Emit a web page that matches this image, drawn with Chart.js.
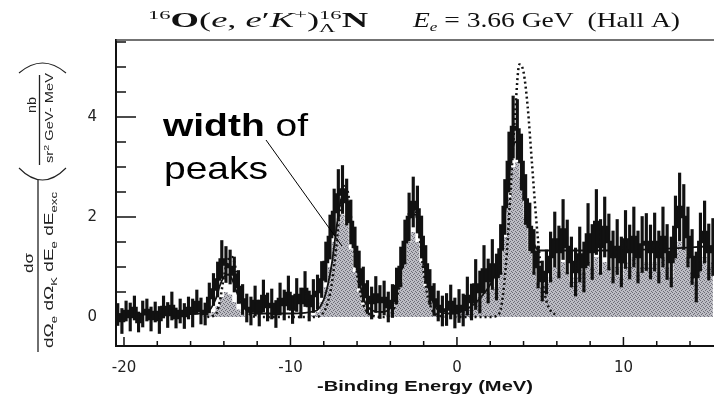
<!DOCTYPE html>
<html>
<head>
<meta charset="utf-8">
<script src="https://cdn.jsdelivr.net/npm/chart.js@4.4.1/dist/chart.umd.min.js"></script>
<style>
html,body{margin:0;padding:0;background:#fff;}
canvas{display:block;}
</style>
</head>
<body>
<canvas id="c" width="714" height="395"></canvas>
<script>
// ---------- data ----------
const binCenters = [
-20.375,-20.125,-19.875,-19.625,-19.375,-19.125,-18.875,-18.625,
-18.375,-18.125,-17.875,-17.625,-17.375,-17.125,-16.875,-16.625,
-16.375,-16.125,-15.875,-15.625,-15.375,-15.125,-14.875,-14.625,
-14.375,-14.125,-13.875,-13.625,-13.375,-13.125,-12.875,-12.625,
-12.375,-12.125,-11.875,-11.625,-11.375,-11.125,-10.875,-10.625,
-10.375,-10.125,-9.875,-9.625,-9.375,-9.125,-8.875,-8.625,
-8.375,-8.125,-7.875,-7.625,-7.375,-7.125,-6.875,-6.625,
-6.375,-6.125,-5.875,-5.625,-5.375,-5.125,-4.875,-4.625,
-4.375,-4.125,-3.875,-3.625,-3.375,-3.125,-2.875,-2.625,
-2.375,-2.125,-1.875,-1.625,-1.375,-1.125,-0.875,-0.625,
-0.375,-0.125,0.125,0.375,0.625,0.875,1.125,1.375,
1.625,1.875,2.125,2.375,2.625,2.875,3.125,3.375,
3.625,3.875,4.125,4.375,4.625,4.875,5.125,5.375,
5.625,5.875,6.125,6.375,6.625,6.875,7.125,7.375,
7.625,7.875,8.125,8.375,8.625,8.875,9.125,9.375,
9.625,9.875,10.125,10.375,10.625,10.875,11.125,11.375,
11.625,11.875,12.125,12.375,12.625,12.875,13.125,13.375,
13.625,13.875,14.125,14.375,14.625,14.875,15.125,15.375];

const measured = [
0.05,-0.08,0.12,0.0,0.18,-0.1,0.06,0.14,
-0.04,0.1,-0.06,0.2,0.04,0.22,-0.02,0.12,
0.02,0.18,0.08,0.3,0.12,0.06,0.38,0.55,
0.75,1.15,1.05,1.0,0.85,0.6,0.35,0.18,
0.12,0.32,0.08,0.42,0.2,0.26,0.06,0.36,
0.24,0.48,0.15,0.44,0.28,0.56,0.22,0.42,
0.5,0.75,1.1,1.6,2.1,2.45,2.55,2.3,
1.9,1.4,0.95,0.65,0.4,0.28,0.45,0.3,
0.38,0.2,0.32,0.62,1.0,1.5,2.0,2.3,
2.15,1.6,1.05,0.6,0.35,0.22,0.12,0.15,
0.3,0.08,0.22,0.14,0.42,0.3,0.65,0.5,
0.95,0.72,1.05,0.8,1.35,2.2,3.1,3.8,
3.75,3.1,2.35,1.8,1.3,1.0,0.72,0.9,
1.2,1.55,1.3,1.75,1.4,1.1,0.9,1.25,
1.0,1.65,1.3,1.9,1.4,1.8,1.5,1.2,
1.4,1.1,1.55,1.3,1.6,1.2,1.45,1.5,
1.3,1.5,1.2,1.6,1.3,1.1,1.8,2.2,
2.0,1.6,1.2,0.8,1.5,1.7,1.3,1.4];

const errors = [
0.22,0.25,0.2,0.28,0.24,0.2,0.26,0.22,
0.24,0.2,0.27,0.22,0.25,0.28,0.2,0.24,
0.25,0.22,0.28,0.24,0.26,0.22,0.3,0.32,
0.35,0.38,0.36,0.34,0.35,0.33,0.3,0.28,
0.28,0.3,0.26,0.32,0.28,0.3,0.27,0.32,
0.3,0.34,0.28,0.33,0.3,0.35,0.3,0.33,
0.34,0.36,0.4,0.44,0.46,0.5,0.48,0.46,
0.44,0.4,0.37,0.35,0.33,0.32,0.36,0.33,
0.34,0.3,0.33,0.36,0.4,0.44,0.48,0.5,
0.47,0.42,0.38,0.35,0.32,0.3,0.3,0.32,
0.34,0.3,0.33,0.32,0.38,0.36,0.5,0.42,
0.48,0.44,0.5,0.46,0.5,0.55,0.6,0.62,
0.6,0.56,0.5,0.48,0.45,0.42,0.4,0.44,
0.5,0.55,0.52,0.6,0.54,0.5,0.48,0.55,
0.5,0.62,0.55,0.65,0.55,0.6,0.56,0.52,
0.55,0.5,0.58,0.54,0.6,0.52,0.56,0.57,
0.54,0.58,0.52,0.6,0.55,0.5,0.62,0.68,
0.65,0.6,0.55,0.5,0.58,0.62,0.56,0.57];

const simulated = [
0,0,0,0,0,0,0,0,
0,0,0,0,0,0,0,0,
0,0,0,0,0,0.02,0.05,0.1,
0.22,0.4,0.5,0.45,0.3,0.15,0.05,0,
0,0,0,0,0,0,0,0,
0,0,0,0,0,0,0,0.04,
0.1,0.3,0.6,1.0,1.5,1.9,2.05,1.85,
1.35,0.9,0.5,0.25,0.1,0.04,0,0,
0,0.05,0.15,0.35,0.7,1.1,1.5,1.7,
1.5,1.1,0.6,0.3,0.1,0.04,0,0,
0,0,0.05,0.1,0.15,0.2,0.3,0.4,
0.45,0.5,0.55,0.6,0.9,1.6,2.4,3.0,
3.1,2.8,2.0,1.3,0.9,0.7,0.6,0.7,
0.8,1.0,0.9,1.1,0.9,0.7,0.8,1.0,
0.9,1.1,1.0,1.2,0.9,1.1,1.0,0.8,
1.0,0.8,1.1,1.0,1.2,0.9,1.0,1.1,
1.0,1.1,0.9,1.2,1.0,0.8,1.3,1.5,
1.4,1.2,0.9,0.7,1.1,1.2,1.0,1.1];

const theoryX = [-15,-14.5,-14.25,-14,-13.75,-13.5,-13.25,-13,-12.5,-12,
-8.5,-8,-7.75,-7.5,-7.25,-7,-6.75,-6.5,-6.25,-6,
-5.75,-5.5,-5,-4.5,-4,-3.75,-3.5,-3.25,-3,-2.75,
-2.5,-2.25,-2,-1.75,-1.5,-1,0,1,2,2.5,
2.75,3,3.25,3.5,3.75,4,4.25,4.5,4.75,5,
5.25,5.5,6];
const theoryY = [0,0.05,0.3,0.8,1.15,1.2,0.9,0.45,0.08,0,
0,0.1,0.3,0.7,1.4,2.2,2.65,2.4,1.6,0.85,
0.4,0.15,0.02,0,0.05,0.2,0.55,1.15,1.8,2.25,
2.15,1.6,0.9,0.4,0.15,0.02,0,0,0,0.05,
0.4,1.3,2.7,4.1,5.05,4.9,4.2,3.1,2.0,1.1,
0.5,0.2,0.02];

const fitX = [-20.48,-16,-15,-14.5,-14.25,-14,-13.75,-13.5,-13.25,-13,-12.5,-12,-10,
-8.5,-8,-7.75,-7.5,-7.25,-7,-6.75,-6.5,-6.25,-6,-5.75,-5.5,-5,-4.5,-4,
-3.75,-3.5,-3.25,-3,-2.75,-2.5,-2.25,-2,-1.75,-1.5,-1.25,-1,-0.5,0,0.5,1,
1.5,2,2.5,2.75,3,3.25,3.5,3.75,4,4.25,4.5,4.75,5,6,9,12,15.44];
const fitY = [0.05,0.06,0.1,0.35,0.62,0.8,0.85,0.75,0.52,0.3,0.1,0.07,0.07,
0.12,0.35,0.65,1.1,1.75,2.3,2.5,2.25,1.65,1.0,0.55,0.28,0.12,0.1,0.18,
0.35,0.65,1.15,1.7,2.05,2.05,1.7,1.15,0.65,0.35,0.18,0.1,0.07,0.08,0.14,0.25,
0.42,0.65,1.05,1.6,2.4,3.15,3.5,3.35,2.8,2.1,1.6,1.38,1.33,1.33,1.33,1.36,1.42];

const xTickValues = [-20,-10,0,10];
const yTickValues = [0,2,4];
const xMinorTicks = [-20,-18,-16,-14,-12,-10,-8,-6,-4,-2,0,2,4,6,8,10,12,14];
const yMinorTicks = [0.5,1,1.5,2,2.5,3,3.5,4,4.5,5,5.5];

// ---------- helpers ----------
function makePattern(){
  const c=document.createElement('canvas'); c.width=4; c.height=4;
  const g=c.getContext('2d');
  g.fillStyle='#bdbdc4'; g.fillRect(0,0,4,4);
  g.fillStyle='#6c6c76';
  g.fillRect(0,0,1,1); g.fillRect(2,1,1,1); g.fillRect(1,2,1,1); g.fillRect(3,3,1,1);
  return g.createPattern(c,'repeat');
}
function drawRuns(ctx, runs, x0, y0, targetW){
  const ws = runs.map(r=>{ctx.font=r.f; return ctx.measureText(r.t).width;});
  let total=0, pend=0;
  runs.forEach((r,i)=>{ if(r.keep){pend=Math.max(pend,ws[i]);} else {total+=Math.max(ws[i],pend); pend=0;} });
  const s = targetW ? targetW/total : 1;
  ctx.save(); ctx.translate(x0,y0); ctx.scale(s,1);
  ctx.textAlign='left'; ctx.textBaseline='alphabetic';
  let cx=0; pend=0;
  runs.forEach((r,i)=>{ ctx.font=r.f; ctx.fillText(r.t,cx,r.dy||0);
    if(r.keep){pend=Math.max(pend,ws[i]);} else {cx+=Math.max(ws[i],pend); pend=0;} });
  ctx.restore();
}

const SERIF='"Liberation Serif", "DejaVu Serif", serif';
const SANS='"Liberation Sans", Arial, sans-serif';

const decor = {
  id:'decor',
  afterDraw(chart){
    const {ctx, chartArea:a, scales:{x,y}} = chart;
    ctx.save();
    // frame top
    ctx.strokeStyle='#444'; ctx.lineWidth=1.5;
    ctx.beginPath(); ctx.moveTo(a.left,a.top); ctx.lineTo(a.right,a.top); ctx.stroke();
    // inward ticks
    ctx.strokeStyle='#111'; ctx.lineWidth=1.5;
    ctx.beginPath();
    xMinorTicks.forEach(v=>{ const px=x.getPixelForValue(v); const len = (v%10===0)?9:5;
      ctx.moveTo(px,a.bottom); ctx.lineTo(px,a.bottom-len); });
    yMinorTicks.forEach(v=>{ const py=y.getPixelForValue(v); const len = yTickValues.includes(v)?20:10;
      ctx.moveTo(a.left,py); ctx.lineTo(a.left+len,py); });
    ctx.stroke();

    // title
    ctx.fillStyle='#111';
    const F='21px '+SERIF, FB='bold 21px '+SERIF, FI='italic 21px '+SERIF, FS='13px '+SERIF, FSI='italic 13px '+SERIF;
    drawRuns(ctx,[
      {t:'16',f:FS,dy:-8},{t:'O',f:FB},{t:'(',f:F},{t:'e',f:FI},{t:', ',f:F},{t:'e',f:FI},{t:'′',f:F},
      {t:'K',f:FI},{t:'+',f:FS,dy:-8},{t:')',f:F},{t:'16',f:FS,dy:-8,keep:true},{t:'Λ',f:FS,dy:5},{t:'N',f:FB}
    ],148,27,220);
    drawRuns(ctx,[
      {t:'E',f:FI},{t:'e',f:FSI,dy:4},{t:' = 3.66 GeV  (Hall A)',f:F}
    ],413,27,267);

    // x axis title
    drawRuns(ctx,[{t:'-Binding Energy (MeV)',f:'bold 15px '+SANS}],317,391,216);

    // y axis title (rotated)
    ctx.save();
    ctx.rotate(-Math.PI/2);
    ctx.fillStyle='#222'; ctx.strokeStyle='#222';
    const yf='13px '+SANS, ys='9px '+SANS;
    drawRuns(ctx,[{t:'dσ',f:yf}],-273,33,20);
    ctx.lineWidth=1.3; ctx.beginPath(); ctx.moveTo(-352,38); ctx.lineTo(-180,38); ctx.stroke();
    drawRuns(ctx,[{t:'dΩ',f:yf},{t:'e',f:ys,dy:4},{t:' dΩ',f:yf},{t:'K',f:ys,dy:4},{t:' dE',f:yf},{t:'e',f:ys,dy:4},{t:' dE',f:yf},{t:'exc',f:ys,dy:4}],-348,53,156);
    ctx.lineWidth=1.1;
    ctx.beginPath(); ctx.moveTo(-168,19); ctx.quadraticCurveTo(-192,42.5,-168,66); ctx.stroke();
    ctx.beginPath(); ctx.moveTo(-73,19); ctx.quadraticCurveTo(-53,42.5,-73,66); ctx.stroke();
    drawRuns(ctx,[{t:'nb',f:yf}],-113,36,16);
    ctx.lineWidth=1.3; ctx.beginPath(); ctx.moveTo(-165,39.5); ctx.lineTo(-75,39.5); ctx.stroke();
    drawRuns(ctx,[{t:'sr',f:'11px '+SANS},{t:'2',f:'8px '+SANS,dy:-4},{t:' GeV- MeV',f:'11px '+SANS}],-163,53,90);
    ctx.restore();

    // annotation
    ctx.fillStyle='#000';
    drawRuns(ctx,[{t:'width',f:'bold 32px '+SANS},{t:' of',f:'32px '+SANS}],163,136,145);
    drawRuns(ctx,[{t:'peaks',f:'32px '+SANS}],164,179,104);
    ctx.strokeStyle='#000'; ctx.lineWidth=1;
    ctx.beginPath(); ctx.moveTo(266,140); ctx.lineTo(342,246); ctx.stroke();
    ctx.restore();
  }
};

const pattern = makePattern();
const pts = (xs, ys) => xs.map((v,i)=>({x:v, y:ys[i]}));

new Chart(document.getElementById('c'), {
  type:'line',
  data:{
    datasets:[
      { label:'simulation', data:pts(binCenters,simulated), stepped:'middle', fill:'origin',
        backgroundColor:pattern, borderWidth:0, pointRadius:0, order:5 },
      { label:'theory', data:pts(theoryX,theoryY), borderColor:'#111', borderWidth:2.5,
        borderDash:[2,3], cubicInterpolationMode:'monotone', pointRadius:0, fill:false, order:4 },
      { label:'fit', data:pts(fitX,fitY), borderColor:'#111', borderWidth:1.8,
        cubicInterpolationMode:'monotone', pointRadius:0, fill:false, order:3 },
      { type:'bar', label:'errors', data:binCenters.map((v,i)=>({x:v, y:[measured[i]-errors[i], measured[i]+errors[i]]})),
        backgroundColor:'#111', borderWidth:0, barThickness:2.5, order:2 },
      { label:'data', data:pts(binCenters,measured), stepped:'middle', borderColor:'#111', borderWidth:2.6,
        pointRadius:0, fill:false, order:1 }
    ]
  },
  options:{
    responsive:false, animation:false, devicePixelRatio:1,
    layout:{padding:{top:40,left:0,right:0,bottom:0}},
    plugins:{legend:{display:false}, tooltip:{enabled:false}, title:{display:false}},
    scales:{
      x:{ type:'linear', min:-20.48, max:15.44, offset:false,
        grid:{display:false}, border:{display:true, color:'#111', width:2},
        afterBuildTicks:s=>{ s.ticks = xTickValues.map(v=>({value:v})); },
        afterFit:s=>{ s.height = 49; },
        ticks:{ padding:5, color:'#222', font:{family:'"DejaVu Sans", sans-serif', size:15}, callback:v=>String(v), maxRotation:0, autoSkip:false } },
      y:{ type:'linear', min:-0.58, max:5.54,
        grid:{display:false}, border:{display:true, color:'#111', width:2},
        afterBuildTicks:s=>{ s.ticks = yTickValues.map(v=>({value:v})); },
        afterFit:s=>{ s.width = 116; },
        ticks:{ padding:11, color:'#222', font:{family:'"DejaVu Sans", sans-serif', size:15}, callback:v=>String(v) } }
    }
  },
  plugins:[decor]
});
</script>
</body>
</html>
